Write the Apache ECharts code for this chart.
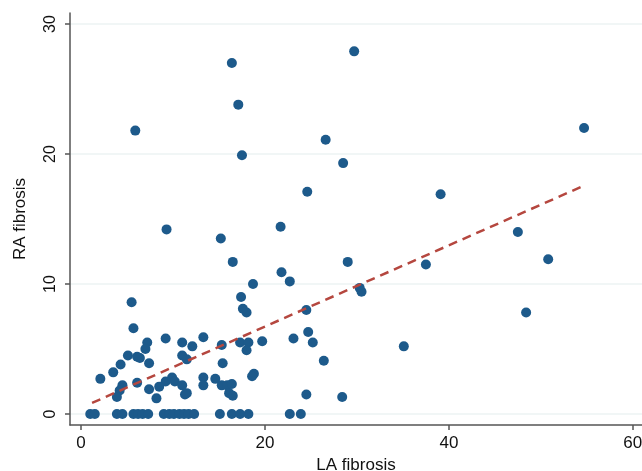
<!DOCTYPE html>
<html>
<head>
<meta charset="utf-8">
<script src="https://cdn.jsdelivr.net/npm/echarts@6/dist/echarts.min.js"></script>
<style>
html,body{margin:0;padding:0;background:#fff;}
#chart{width:642px;height:471px;}
</style>
</head>
<body>
<div id="chart"></div>
<script>
// LA fibrosis (x) and RA fibrosis (y) per patient
const laFibrosis = [
  5.9, 16.4, 17.1, 17.5, 29.7, 26.6, 28.5, 24.6, 9.3, 15.2,
  21.7, 16.5, 21.8, 22.7, 18.7, 29.0, 17.4, 5.5, 54.7, 39.1,
  47.5, 50.8, 37.5, 30.3, 30.5, 48.4, 35.1, 24.5, 24.7, 25.2,
  23.1, 19.7, 26.4, 24.5, 28.4, 18.0, 17.6, 18.8, 18.6, 5.7,
  9.2, 7.2, 7.0, 5.1, 6.1, 6.4, 7.4, 4.3, 3.5, 2.1,
  4.5, 4.2, 3.9, 6.1, 7.4, 8.2, 9.2, 9.9, 10.2, 11.0,
  11.3, 11.5, 8.5, 13.3, 13.3, 14.6, 15.4, 15.3, 15.9, 16.4,
  16.1, 16.5, 11.0, 12.1, 13.3, 15.3, 17.3, 18.2, 18.0, 11.0,
  11.5,
  1.0, 1.5, 3.9, 4.5, 5.7, 6.2, 6.7, 7.3, 9.0, 9.6,
  10.1, 10.7, 11.2, 11.7, 12.3, 15.1, 16.4, 17.3, 18.2, 22.7,
  23.9
];
const raFibrosis = [
  21.8, 27.0, 23.8, 19.9, 27.9, 21.1, 19.3, 17.1, 14.2, 13.5,
  14.4, 11.7, 10.9, 10.2, 10.0, 11.7, 9.0, 8.6, 22.0, 16.9,
  14.0, 11.9, 11.5, 9.7, 9.4, 7.8, 5.2, 8.0, 6.3, 5.5,
  5.8, 5.6, 4.1, 1.5, 1.3, 7.8, 8.1, 3.1, 2.9, 6.6,
  5.8, 5.5, 5.0, 4.5, 4.4, 4.3, 3.9, 3.8, 3.2, 2.7,
  2.2, 1.8, 1.3, 2.4, 1.9, 1.2, 2.5, 2.8, 2.5, 2.2,
  1.5, 1.6, 2.1, 2.8, 2.2, 2.7, 3.9, 2.2, 2.2, 2.3,
  1.6, 1.4, 5.5, 5.2, 5.9, 5.3, 5.5, 5.5, 4.9, 4.5,
  4.2,
  0, 0, 0, 0, 0, 0, 0, 0, 0, 0,
  0, 0, 0, 0, 0, 0, 0, 0, 0, 0,
  0
];
// fitted regression line endpoints
const fitX = [1.2, 54.8];
const fitY = [0.85, 17.6];
// tick labels
const xTicks = [0, 20, 40, 60];
const yTicks = [0, 10, 20, 30];

const points = laFibrosis.map((x, i) => [x, raFibrosis[i]]);
const fitLine = fitX.map((x, i) => [x, fitY[i]]);

const FONT = '"Liberation Sans", Arial, Helvetica, sans-serif';
const chart = echarts.init(document.getElementById('chart'), null, {renderer: 'canvas'});
chart.setOption({
  animation: false,
  backgroundColor: '#ffffff',
  grid: {left: 70, right: 0, top: 13, bottom: 46, containLabel: false, outerBoundsMode: 'none'},
  xAxis: {
    type: 'value', min: -1.2, max: 61,
    name: 'LA fibrosis', nameLocation: 'middle', nameGap: 29,
    nameTextStyle: {fontFamily: FONT, fontSize: 17, color: '#111'},
    axisLine: {show: true, onZero: false, lineStyle: {color: '#555', width: 1.5}},
    axisTick: {show: true, length: 5, customValues: xTicks, lineStyle: {color: '#555', width: 1.5}},
    axisLabel: {customValues: xTicks, margin: 10, fontFamily: FONT, fontSize: 17, color: '#111'},
    splitLine: {show: false}
  },
  yAxis: {
    type: 'value', min: -0.85, max: 30.85,
    name: 'RA fibrosis', nameLocation: 'middle', nameGap: 41, nameRotate: 90,
    nameTextStyle: {fontFamily: FONT, fontSize: 17, color: '#111'},
    axisLine: {show: true, onZero: false, lineStyle: {color: '#555', width: 1.5}},
    axisTick: {show: true, length: 5, customValues: yTicks, lineStyle: {color: '#555', width: 1.5}},
    axisLabel: {customValues: yTicks, rotate: 90, margin: 11, fontFamily: FONT, fontSize: 16, color: '#111'},
    splitLine: {show: true, lineStyle: {color: '#edf3f3', width: 1.5}}
  },
  series: [
    {
      type: 'scatter', data: points, symbol: 'circle', symbolSize: 10,
      itemStyle: {color: '#1d5a8b', opacity: 1},
      z: 3
    },
    {
      type: 'line', data: fitLine, symbol: 'none',
      lineStyle: {color: '#b5473f', width: 2.5, type: [9, 6]},
      z: 4
    }
  ]
});
</script>
</body>
</html>
